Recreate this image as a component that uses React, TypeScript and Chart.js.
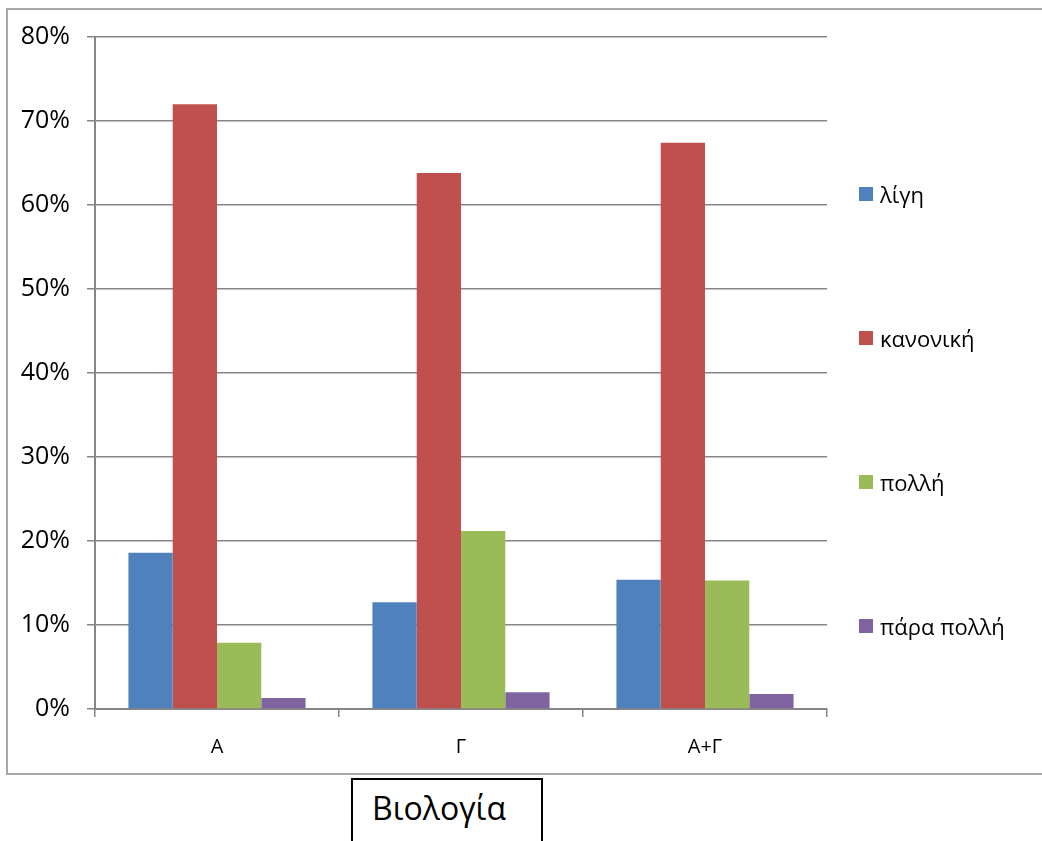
import React, { useEffect, useRef } from "react";
import { Chart, registerables } from "chart.js";

Chart.register(...registerables);

const categories = ["Α", "Γ", "Α+Γ"];
const seriesNames = ["λίγη", "κανονική", "πολλή", "πάρα πολλή"];
const seriesColors = ["#4F81BD", "#C0504D", "#9BBB59", "#8064A2"];
const ligi = [18.6, 12.7, 15.4];
const kanoniki = [72.0, 63.8, 67.4];
const polli = [7.9, 21.2, 15.3];
const paraPolli = [1.3, 2.0, 1.8];
const yTicks = [0, 10, 20, 30, 40, 50, 60, 70, 80];
const titleText = "Βιολογία";

const seriesValues = [ligi, kanoniki, polli, paraPolli];
const FONT = "'Open Sans', 'Noto Sans', 'DejaVu Sans', sans-serif";
const GRID = "#868686";

export default function App() {
  const ref = useRef<HTMLCanvasElement | null>(null);

  useEffect(() => {
    if (!ref.current) return;
    const chart = new Chart(ref.current, {
      type: "bar",
      data: {
        labels: categories,
        datasets: seriesNames.map((name, i) => ({
          label: name,
          data: seriesValues[i],
          backgroundColor: seriesColors[i],
          borderWidth: 0,
          barPercentage: 1,
          categoryPercentage: 0.726,
        })),
      },
      options: {
        animation: false,
        responsive: false,
        maintainAspectRatio: false,
        layout: { padding: { left: 0, top: 37, right: 215, bottom: 0 } },
        plugins: {
          legend: { display: false },
          tooltip: { enabled: false },
          title: { display: false },
        },
        scales: {
          x: {
            grid: {
              offset: true,
              drawOnChartArea: false,
              drawTicks: true,
              tickLength: 8,
              color: GRID,
              lineWidth: 1.5,
            },
            border: { display: true, color: GRID, width: 2 },
            ticks: {
              font: { family: FONT, size: 20 },
              color: "#000",
              padding: 18,
              maxRotation: 0,
            },
            afterFit: (s: any) => {
              s.height = 67;
            },
          },
          y: {
            min: 0,
            max: 80,
            afterBuildTicks: (s: any) => {
              s.ticks = yTicks.map((v) => ({ value: v }));
            },
            ticks: {
              callback: (v: any) => v + "%",
              font: { family: FONT, size: 25 },
              color: "#000",
              padding: 17,
            },
            grid: { tickLength: 8, color: GRID, lineWidth: 1.5 },
            border: { display: true, color: GRID, width: 2 },
            afterFit: (s: any) => {
              s.width = 95;
            },
          },
        },
      },
    });
    return () => chart.destroy();
  }, []);

  const legendTops = [187, 331, 475, 619];

  return (
    <div
      style={{
        position: "fixed",
        left: 0,
        top: 0,
        width: 1042,
        height: 841,
        overflow: "hidden",
        background: "#fff",
        fontFamily: FONT,
      }}
    >
      <div
        style={{
          position: "absolute",
          left: 6,
          top: 8,
          width: 1100,
          height: 767,
          border: "2px solid #a8a8a8",
          boxSizing: "border-box",
        }}
      />
      <canvas
        ref={ref}
        width={1042}
        height={776}
        style={{ position: "absolute", left: 0, top: 0, width: 1042, height: 776 }}
      />
      {seriesNames.map((name, i) => (
        <div
          key={name}
          style={{
            position: "absolute",
            left: 859,
            top: legendTops[i] - 8,
            height: 30,
            display: "flex",
            alignItems: "center",
            whiteSpace: "nowrap",
          }}
        >
          <span
            style={{
              display: "inline-block",
              width: 14,
              height: 14,
              background: seriesColors[i],
              marginRight: 7,
            }}
          />
          <span style={{ fontSize: 22, color: "#000", lineHeight: "30px" }}>{name}</span>
        </div>
      ))}
      <div
        style={{
          position: "absolute",
          left: 351,
          top: 778,
          width: 192,
          height: 90,
          border: "2px solid #000",
          boxSizing: "border-box",
          paddingLeft: 19,
          paddingTop: 12,
          fontSize: 32,
          lineHeight: "32px",
          color: "#000",
        }}
      >
        {titleText}
      </div>
    </div>
  );
}
